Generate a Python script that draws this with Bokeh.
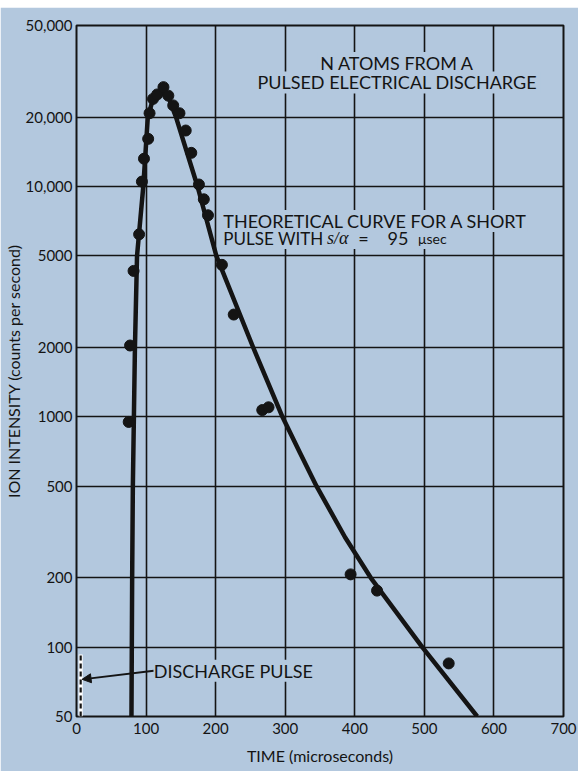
from bokeh.plotting import figure
from bokeh.models import FixedTicker, Label, Arrow, NormalHead, Spacer
from bokeh.layouts import column
from bokeh.embed import file_html
from bokeh.resources import INLINE

# ---- data ----
point_time = [75, 77, 82, 90, 94, 97, 103, 105, 110, 116, 125, 132, 139, 148, 157,
              165, 176, 183, 189, 209, 226, 267, 276, 394, 432, 535]
point_intensity = [950, 2040, 4300, 6200, 10500, 13200, 16100, 20800, 24000, 25100,
                   27000, 24800, 22500, 20800, 17500, 14000, 10200, 8800, 7500, 4570,
                   2780, 1070, 1100, 207, 176, 85]

curve_time = [79, 80, 81, 82.5, 84, 87, 96, 102.5, 110, 122, 132, 143, 174, 201,
              254, 296, 321, 345, 386, 423, 497, 576]
curve_intensity = [50, 200, 500, 1000, 2000, 5000, 10000, 20000, 24000, 25800, 24500,
                   20000, 10000, 5000, 2000, 1000, 700, 500, 300, 200, 100, 50]

pulse_time = [6, 6]
pulse_intensity = [50, 93]

x_ticks = [0, 100, 200, 300, 400, 500, 600, 700]
y_ticks = [50, 100, 200, 500, 1000, 2000, 5000, 10000, 20000, 50000]
y_tick_labels = ["50", "100", "200", "500", "1000", "2000", "5000",
                 "10,000", "20,000", "50,000"]

BG = "#b3c8de"
INK = "#141414"
FONT = "Lato"

p = figure(width=578, height=764, x_range=(0, 700), y_range=(50, 50000),
           y_axis_type="log", output_backend="svg", toolbar_location=None,
           min_border_left=76, min_border_right=15, min_border_top=18,
           min_border_bottom=55)
p.background_fill_color = BG
p.border_fill_color = BG
p.outline_line_color = INK
p.outline_line_width = 2

for ax in (p.xaxis[0], p.yaxis[0]):
    ax.axis_line_color = None
    ax.major_tick_line_color = None
    ax.minor_tick_line_color = None
    ax.major_tick_out = 0
    ax.major_tick_in = 0
    ax.minor_tick_out = 0
    ax.major_label_text_font = FONT
    ax.major_label_text_font_size = "15px"
    ax.major_label_text_color = INK
    ax.axis_label_text_font = FONT
    ax.axis_label_text_font_style = "normal"
    ax.axis_label_text_font_size = "16px"
    ax.axis_label_text_color = INK

p.xaxis.ticker = FixedTicker(ticks=x_ticks)
p.yaxis.ticker = FixedTicker(ticks=y_ticks)
p.yaxis.major_label_overrides = {t: l for t, l in zip(y_ticks, y_tick_labels)}
p.xaxis.major_label_standoff = 6
p.yaxis.major_label_standoff = 4
p.xaxis.axis_label = "TIME (microseconds)"
p.xaxis.axis_label_standoff = 9
p.yaxis.axis_label = "ION INTENSITY (counts per second)"
p.yaxis.axis_label_standoff = 0

p.xgrid.ticker = FixedTicker(ticks=x_ticks)
p.ygrid.ticker = FixedTicker(ticks=y_ticks)
for g in (p.xgrid[0], p.ygrid[0]):
    g.grid_line_color = INK
    g.grid_line_width = 1.6
    g.grid_line_alpha = 1.0
p.ygrid.minor_grid_line_color = None


def text_label(x, y, txt, align="center", size="18px", style="normal", font=FONT,
               hpad=0, bg=True, color=INK):
    lab = Label(x=x, y=y, text=txt, text_align=align, text_baseline="middle",
                text_font=font, text_font_size=size, text_font_style=style,
                text_color=color,
                background_fill_color=BG if bg else None,
                background_fill_alpha=1.0,
                padding=dict(left=hpad, right=hpad, top=0, bottom=0))
    p.add_layout(lab)
    return lab


text_label(461, 34400, "N ATOMS FROM A", hpad=3)
text_label(461, 28300, "PULSED ELECTRICAL DISCHARGE", hpad=3)
# backing box for the second line, then its pieces
text_label(211, 5975, "PULSE WITH s/α = 95 μsec", align="left", hpad=0, color=BG)
text_label(211, 5975, "PULSE WITH", align="left", size="17px", bg=False)
text_label(360, 5975, "s/α", align="left", style="italic", font="Liberation Serif", bg=False)
text_label(405, 5975, "=", align="left", bg=False)
text_label(447, 5975, "95", align="left", bg=False)
text_label(491, 5975, "μsec", align="left", size="14px", bg=False)
text_label(211, 7080, "THEORETICAL CURVE FOR A SHORT", align="left")

# discharge pulse marker
p.line(pulse_time, pulse_intensity, line_color="white", line_width=4)
p.line(pulse_time, pulse_intensity, line_color=INK, line_width=2.2, line_dash="5 3")
p.add_layout(Arrow(end=NormalHead(size=9, fill_color=INK, line_color=INK),
                   x_start=111, y_start=79, x_end=8, y_end=72.5,
                   line_color=INK, line_width=1.8))
text_label(111, 79, "DISCHARGE PULSE", align="left")

# theoretical curve and measured points
p.line(curve_time, curve_intensity, line_color=INK, line_width=4.5, line_join="round")
p.scatter(point_time, point_intensity, size=11, fill_color=INK, line_color=INK)

layout = column(Spacer(height=7), p)
open("out.html", "w").write(file_html(layout, INLINE))
